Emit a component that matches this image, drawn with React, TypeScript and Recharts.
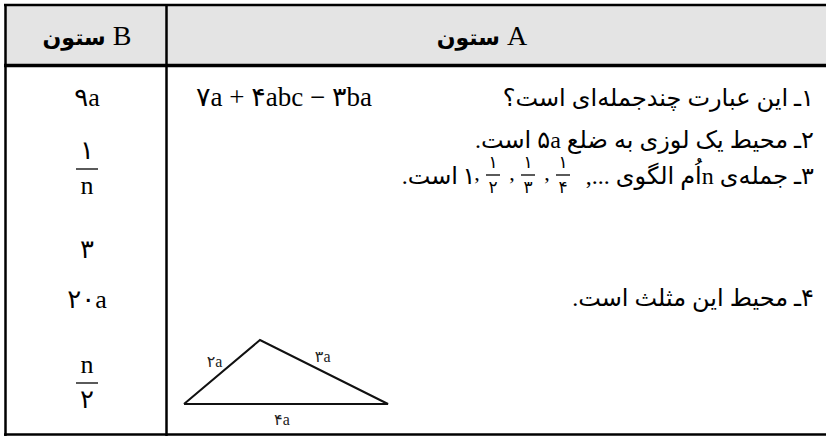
import React from 'react'
import { ComposedChart, LineChart, Line, XAxis, YAxis, ReferenceLine, ReferenceArea, ReferenceDot } from 'recharts'

// table content
const headers = ['ستون B', 'ستون A']
const columnA = [
  '۱ـ این عبارت چندجمله‌ای است؟',
  '۲ـ محیط یک لوزی به ضلع ۵a است.',
  '۳ـ جمله‌ی nاُم الگوی ...,',
  '۴ـ محیط این مثلث است.',
]
const expression = '۷a + ۴abc − ۳ba'
const sequenceFractions = [
  { top: '۱', bottom: '۲' },
  { top: '۱', bottom: '۳' },
  { top: '۱', bottom: '۴' },
]
const sequenceFirst = '۱'
const sequenceTail = 'است.'
const columnB = [
  { top: '۹a', bottom: '' },
  { top: '۱', bottom: 'n' },
  { top: '۳', bottom: '' },
  { top: '۲۰a', bottom: '' },
  { top: 'n', bottom: '۲' },
]
const triangleVertices = [
  { x: 0, y: 0 },
  { x: 1.49, y: 1.25 },
  { x: 4, y: 0 },
  { x: 0, y: 0 },
]
const triangleLabels = [
  { text: '۲a', x: 0.6, y: 0.82 },
  { text: '۳a', x: 2.72, y: 0.92 },
  { text: '۴a', x: 1.92, y: -0.32 },
]

// layout
const W = 826
const H = 436
const FONT = "'Liberation Serif', 'DejaVu Sans', serif"
const FA_FONT = "'DejaVu Sans', 'Liberation Serif', sans-serif"
const FA_SIZE = 24
const colBCenter = 87
const colARight = 814
const rowABase = [106, 148, 184, 306]
const colBRows = [
  { y: 106, frac: false },
  { y: 169, frac: true },
  { y: 258, frac: false },
  { y: 308, frac: false },
  { y: 383, frac: true },
]
const seqFracX = [493, 528, 563]
const seqBar = 175

const txt = (key: string, x: number, y: number, render: (cx: number, cy: number) => React.ReactNode) => (
  <ReferenceDot key={key} x={x} y={y} r={0} ifOverflow="visible" shape={(p: any) => <g>{render(p.cx, p.cy)}</g>} />
)

const fraction = (cx: number, cy: number, top: string, bottom: string, size: number, half: number, up: number, down: number) => (
  <g>
    <text x={cx} y={cy - up} textAnchor="middle" fontFamily={FONT} fontSize={size} fill="#000">{top}</text>
    <line x1={cx - half} x2={cx + half} y1={cy} y2={cy} stroke="#000" strokeWidth={1.3} />
    <text x={cx} y={cy + down} textAnchor="middle" fontFamily={FONT} fontSize={size} fill="#000">{bottom}</text>
  </g>
)

function Triangle() {
  return (
    <LineChart width={214} height={100} data={triangleVertices} margin={{ top: 10, right: 6, bottom: 26, left: 4 }}>
      <XAxis type="number" dataKey="x" domain={[0, 4]} hide />
      <YAxis type="number" dataKey="y" domain={[0, 1.25]} hide />
      <Line type="linear" dataKey="y" stroke="#111" strokeWidth={2} dot={false} isAnimationActive={false} />
      {triangleLabels.map((l, i) => (
        <ReferenceDot key={i} x={l.x} y={l.y} r={0} ifOverflow="visible"
          shape={(p: any) => <text x={p.cx} y={p.cy + 5} textAnchor="middle" fontFamily={FONT} fontSize={16} fill="#222">{l.text}</text>} />
      ))}
    </LineChart>
  )
}

const header = (label: string) => (cx: number, cy: number) => (
  <text x={cx} y={cy} textAnchor="middle" fontFamily={FONT} fontSize={28} fill="#000">
    <tspan fontFamily={FA_FONT} fontWeight="bold" fontSize={22}>{label.split(' ')[0]}</tspan>
    <tspan> {label.split(' ')[1]}</tspan>
  </text>
)

export default function App() {
  const seg = (x1: number, y1: number, x2: number, y2: number) => [{ x: x1, y: y1 }, { x: x2, y: y2 }]
  return (
    <div style={{ position: 'absolute', left: 0, top: 0, width: W, height: H, background: '#fff' }}>
      <ComposedChart width={W} height={H} data={[]} margin={{ top: 0, right: 0, bottom: 0, left: 0 }}>
        <XAxis type="number" dataKey="x" domain={[0, W]} hide allowDataOverflow />
        <YAxis type="number" dataKey="y" domain={[0, H]} reversed hide allowDataOverflow />
        <ReferenceArea x1={5} x2={W} y1={5} y2={65} fill="#e4e4e4" fillOpacity={1} stroke="none" ifOverflow="visible" />
        <ReferenceLine segment={seg(4, 5, W, 5)} stroke="#000" strokeWidth={2.5} ifOverflow="visible" />
        <ReferenceLine segment={seg(4, 65.5, W, 65.5)} stroke="#000" strokeWidth={3.5} ifOverflow="visible" />
        <ReferenceLine segment={seg(4, 434.5, W, 434.5)} stroke="#000" strokeWidth={2.5} ifOverflow="visible" />
        <ReferenceLine segment={seg(5.5, 4, 5.5, 436)} stroke="#000" strokeWidth={2.5} ifOverflow="visible" />
        <ReferenceLine segment={seg(166.5, 4, 166.5, 436)} stroke="#000" strokeWidth={2.5} ifOverflow="visible" />

        {txt('hB', colBCenter, 45, header(headers[0]))}
        {txt('hA', 482, 45, header(headers[1]))}

        {columnA.map((s, i) => txt('a' + i, colARight, rowABase[i], (cx, cy) => (
          <text x={cx} y={cy} direction="rtl" textAnchor="start" fontFamily={FONT} fontSize={FA_SIZE} fill="#000">{s}</text>
        )))}
        {txt('expr', 196, 106, (cx, cy) => (
          <text x={cx} y={cy} textAnchor="start" fontFamily={FONT} fontSize={27} fill="#000">{expression}</text>
        ))}

        {sequenceFractions.map((f, i) => txt('sf' + i, seqFracX[i], seqBar, (cx, cy) => fraction(cx, cy, f.top, f.bottom, 17, 7, 7, 18)))}
        {seqFracX.map((x, i) => txt('sc' + i, x - 16, 180, (cx, cy) => (
          <text x={cx} y={cy} textAnchor="middle" fontFamily={FONT} fontSize={22} fill="#000">,</text>
        )))}
        {txt('s1', 469, 184, (cx, cy) => (
          <text x={cx} y={cy} textAnchor="middle" fontFamily={FONT} fontSize={FA_SIZE} fill="#000">{sequenceFirst}</text>
        ))}
        {txt('s2', 458, 184, (cx, cy) => (
          <text x={cx} y={cy} direction="rtl" textAnchor="start" fontFamily={FONT} fontSize={FA_SIZE} fill="#000">{sequenceTail}</text>
        ))}

        {columnB.map((c, i) => txt('b' + i, colBCenter, colBRows[i].y, (cx, cy) =>
          colBRows[i].frac
            ? fraction(cx, cy, c.top, c.bottom, 26, 11, 10, 25)
            : <text x={cx} y={cy} textAnchor="middle" fontFamily={FONT} fontSize={26} fill="#000">{c.top}</text>
        ))}
      </ComposedChart>
      <div style={{ position: 'absolute', left: 180, top: 330 }}>
        <Triangle />
      </div>
    </div>
  )
}
